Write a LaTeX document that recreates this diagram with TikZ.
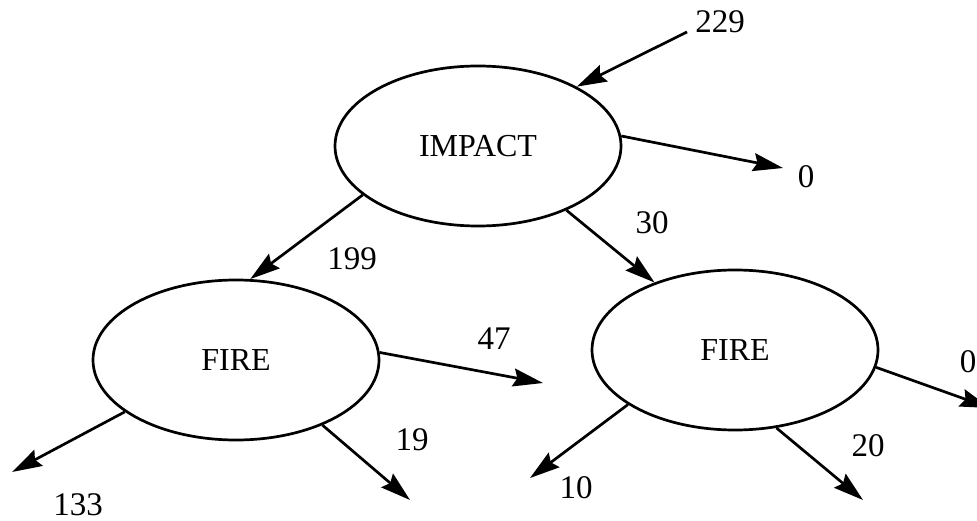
\documentclass[tikz,border=0pt]{standalone}
\usepackage{fontspec}
\setmainfont{Liberation Serif}
\usetikzlibrary{shapes.geometric,arrows.meta}
\begin{document}
\begin{tikzpicture}[x=1pt,y=-1pt,
  state/.style={draw,line width=2.7pt,ellipse,minimum width=286pt,minimum height=160pt,inner sep=0pt,font=\fontsize{32}{36}\selectfont},
  lbl/.style={inner sep=0pt,font=\fontsize{33}{38}\selectfont},
  flow/.style={line width=2.7pt,-{Stealth[length=30pt,width=18pt,inset=4pt]}}]
\useasboundingbox (0,0) rectangle (977,521);
\node[state] (impact) at (478,146) {IMPACT};
\node[state] (fireL) at (236,360) {FIRE};
\node[state] (fireR) at (735,350) {FIRE};
\coordinate (c229) at (687,32);
\coordinate (c0a) at (783,168);
\coordinate (c47) at (543,383);
\coordinate (c133) at (12,472);
\coordinate (c19) at (410,500);
\coordinate (c10) at (530,478);
\coordinate (c20) at (863,500);
\coordinate (c0b) at (990,408);
\draw[flow] (c229) -- (impact.31.3);
\draw[flow] (impact.4.4) -- (c0a);
\draw[flow] (impact.203.8) -- (fireL.80.5);
\draw[flow] (impact.-36.3) -- (fireR.140.7);
\draw[flow] (fireL.3.2) -- (c47);
\draw[flow] (fireL.205.1) -- (c133);
\draw[flow] (fireL.-37.9) -- (c19);
\draw[flow] (fireR.207.5) -- (c10);
\draw[flow] (fireR.-62.2) -- (c20);
\draw[flow] (fireR.-7.3) -- (c0b);
\node[lbl] (l229) at (720,22) {229};
\node[lbl] (l0a) at (806,177) {0};
\node[lbl] (l199) at (352,259) {199};
\node[lbl] (l30) at (652,223) {30};
\node[lbl] (l47) at (494,339) {47};
\node[lbl] (l133) at (78,505) {133};
\node[lbl] (l19) at (412,440) {19};
\node[lbl] (l10) at (576,488) {10};
\node[lbl] (l20) at (868,446) {20};
\node[lbl] (l0b) at (968,362) {0};
\end{tikzpicture}
\end{document}
